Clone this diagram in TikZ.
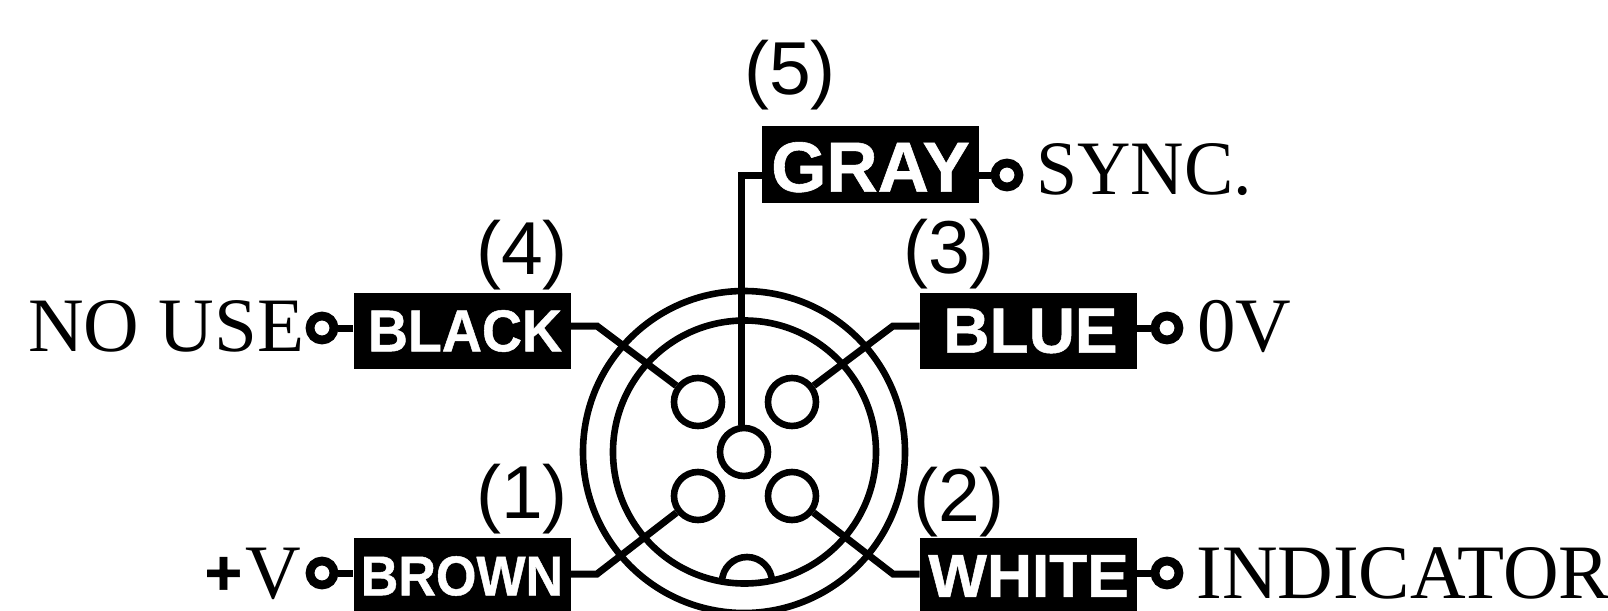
\documentclass[tikz,border=0pt]{standalone}
\usepackage{fontspec}
\setmainfont{Liberation Serif}
\newfontfamily\lsans{Liberation Sans}
\newfontfamily\lsansb[FakeBold=0.8]{Liberation Sans Bold}
\tikzset{
  wire/.style={line width=3.5pt,line join=miter},
  ring/.style={circle,draw,line width=3.3pt,inner sep=0pt},
  pin/.style={circle,draw,line width=3.3pt,minimum size=24pt,inner sep=0pt,fill=white},
  term/.style={circle,draw,line width=4.4pt,minimum size=12pt,inner sep=0pt,fill=white},
  wirebox/.style={fill=black,text=white,inner sep=0pt,minimum width=108.5pt,minimum height=38pt},
  num/.style={font=\lsans\fontsize{37.5}{37.5}\selectfont,inner sep=0pt},
  sig/.style={font=\fontsize{38.5}{38.5}\selectfont,inner sep=0pt,anchor=base west}
}
\newcommand{\boxfont}[1]{\lsansb\fontsize{#1}{#1}\selectfont}
\begin{document}
\begin{tikzpicture}[x=0.5pt,y=-0.5pt]
\useasboundingbox (0,0) rectangle (1608,611);
\clip (0,0) rectangle (1608,611);
\fill[white] (0,0) rectangle (1608,611);
% connector body
\node[ring,minimum size=161pt] (outer) at (744,452) {};
\node[ring,minimum size=131.5pt] (inner) at (744.5,452) {};
\draw[line width=3.3pt] (722,582) arc[start angle=180,end angle=0,x radius=25,y radius=-25];
% pins
\node[pin] (p4) at (698,402) {};
\node[pin] (p3) at (792,402) {};
\node[pin] (p5) at (744,452) {};
\node[pin] (p1) at (698,496) {};
\node[pin] (p2) at (792,496) {};
% boxes
\node[wirebox,minimum height=38.5pt,text height=27.5pt,font=\boxfont{35.5}] (gray) at (870.5,164.5) {GRAY};
\node[wirebox,font=\boxfont{29.5}] (black) at (462,331) {\hspace*{3pt}\scalebox{.94}[1]{BLACK}};
\node[wirebox,font=\boxfont{32}] (blue) at (1028.5,331) {\hspace*{2pt}BLUE};
\node[wirebox,font=\boxfont{28}] (brown) at (462,576) {\scalebox{.93}[1]{BROWN}};
\node[wirebox,font=\boxfont{30.5}] (white) at (1028.5,576) {\scalebox{1.02}[1]{WHITE}};
% bend points
\coordinate (b4) at (597,326);
\coordinate (b3) at (893,326);
\coordinate (b1) at (597,574);
\coordinate (b2) at (893,574);
\coordinate (b5) at (741,175);
\draw[wire] (black.east |- b4) -- (b4) -- (p4);
\draw[wire] (blue.west |- b3) -- (b3) -- (p3);
\draw[wire] (brown.east |- b1) -- (b1) -- (p1);
\draw[wire] (white.west |- b2) -- (b2) -- (p2);
\draw[wire] (gray.west |- b5) -- (b5) -- (b5 |- p5.north);
% terminals
\node[term] (tg) at (1007,175) {};
\node[term] (tk) at (322,328) {};
\node[term] (tb) at (1167,328) {};
\node[term] (tn) at (322,573) {};
\node[term] (tw) at (1167,573) {};
\draw[wire] (gray.east |- tg) -- (tg);
\draw[wire] (black.west |- tk) -- (tk);
\draw[wire] (blue.east |- tb) -- (tb);
\draw[wire] (brown.west |- tn) -- (tn);
\draw[wire] (white.east |- tw) -- (tw);
% numbers
\node[num] (n5) at (790,75) {(5)};
\node[num] (n4) at (522,255) {(4)};
\node[num] (n3) at (949,254) {(3)};
\node[num] (n1) at (522,499.5) {(1)};
\node[num] (n2) at (959,502.5) {(2)};
% signals
\node[sig] (ssync) at (1036,194) {\scalebox{.96}[1]{SYNC.}};
\node[sig] (snouse) at (28,351) {NO USE};
\node[sig] (szero) at (1197,351) {0V};
\node[sig] (splus) at (245,598) {V};
\node[inner sep=0pt,font=\boxfont{32}] (plus) at (223.5,576) {+};
\node[sig] (sind) at (1196,598) {INDICATOR};
\end{tikzpicture}
\end{document}
